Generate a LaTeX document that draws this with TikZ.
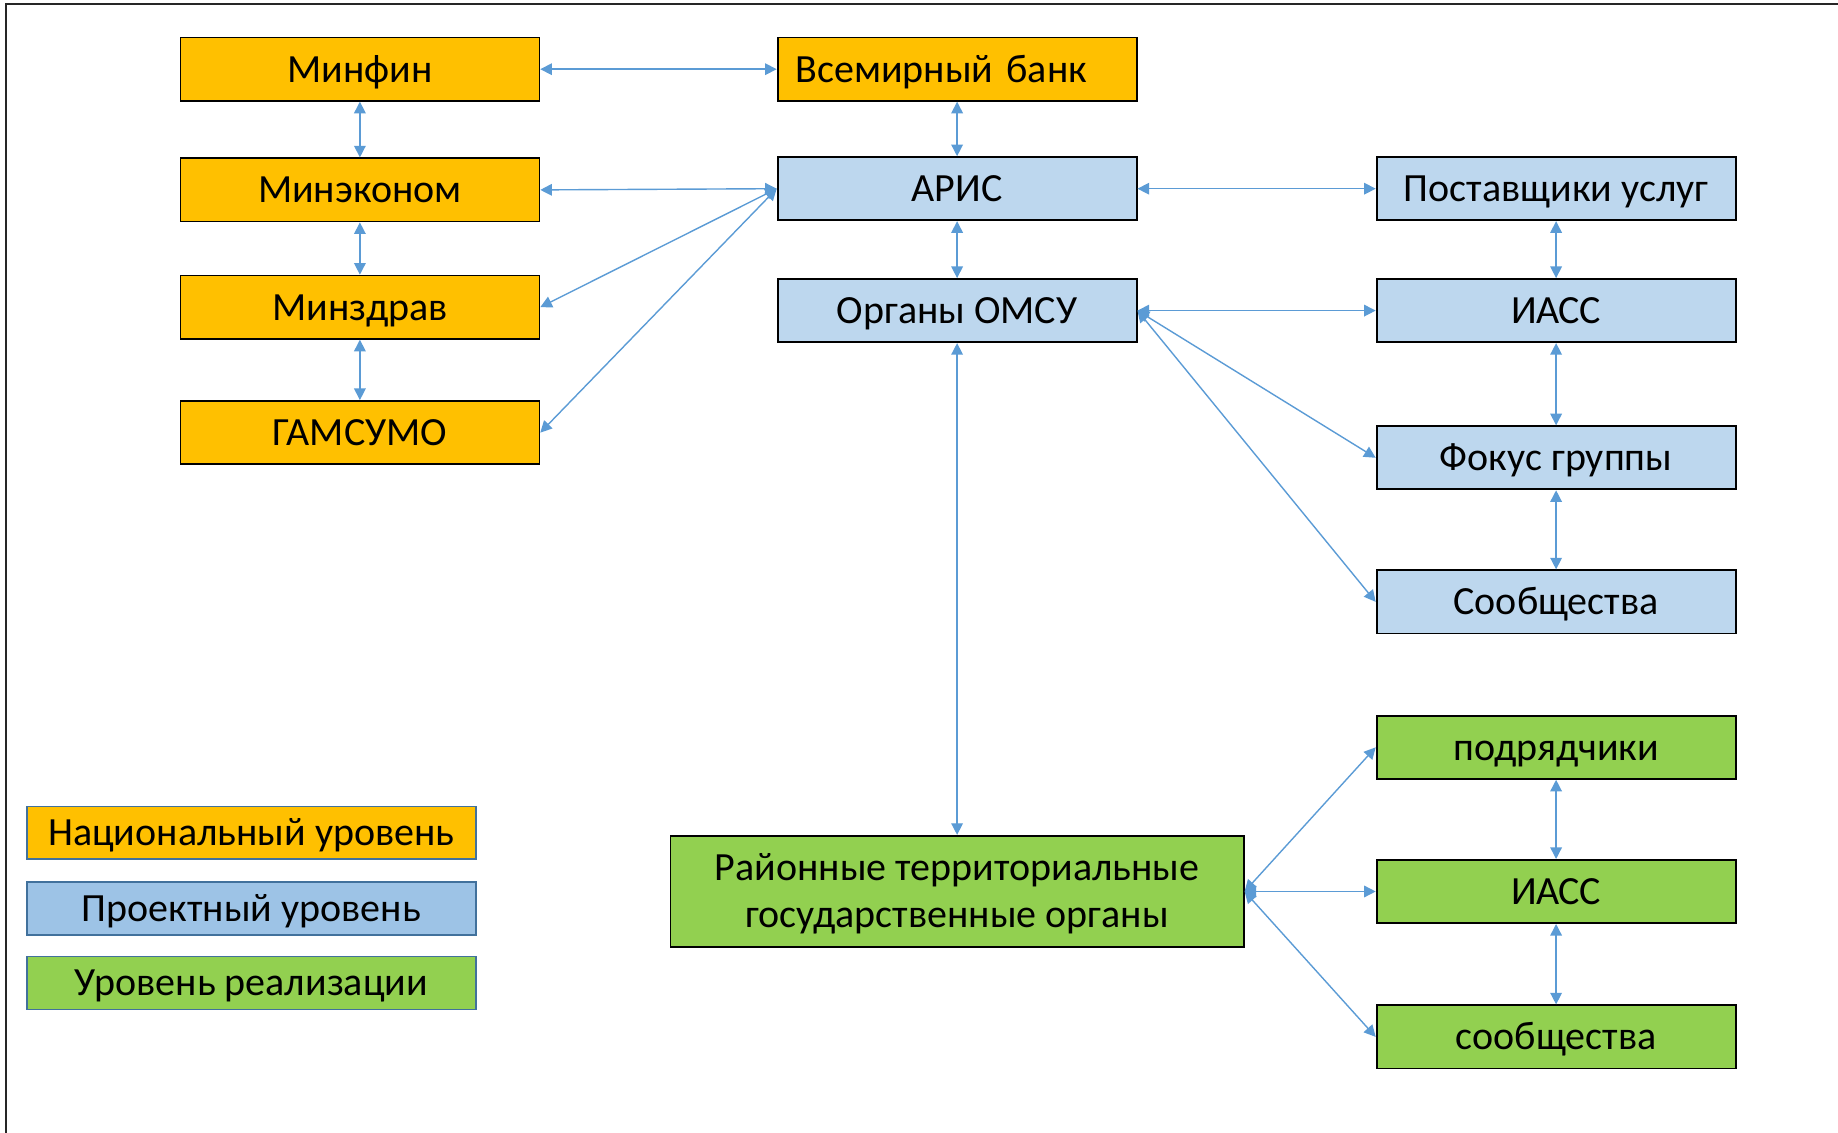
\documentclass[tikz,border=0pt]{standalone}
\usepackage{fontspec}
\setmainfont{Carlito}
\usetikzlibrary{arrows.meta}
\definecolor{cOrange}{HTML}{FFC000}
\definecolor{cBlue}{HTML}{BDD7EE}
\definecolor{cLegBlue}{HTML}{9DC3E6}
\definecolor{cGreen}{HTML}{92D050}
\definecolor{cArrow}{HTML}{5B9BD5}
\definecolor{cLegBorder}{HTML}{41719C}
\tikzset{
  box/.style={draw=black, line width=0.9pt, inner sep=0pt, minimum width=179.5pt, minimum height=31.6pt, font=\fontsize{20}{23.3}\selectfont, text=black, text height=12.9pt, text depth=0pt},
  nat/.style={box, fill=cOrange},
  proj/.style={box, fill=cBlue},
  impl/.style={box, fill=cGreen},
  legend/.style={draw=cLegBorder, line width=0.7pt, inner sep=0pt, minimum width=224.5pt, minimum height=26.4pt, font=\fontsize{20}{23.3}\selectfont, text height=12.9pt, text depth=0pt},
  link/.style={draw=cArrow, line width=0.7pt, {Triangle[length=5.8pt,width=5.8pt]}-{Triangle[length=5.8pt,width=5.8pt]}}
}
\begin{document}
\begin{tikzpicture}[x=0.5pt,y=-0.5pt]
\useasboundingbox (0,0) rectangle (1838,1133);
% frame
\draw[line width=1pt, black!85] (5.5,1133) -- (5.5,4.5) -- (1838,4.5);
% national
\node[nat] (minfin) at (359.9,69.2) {Минфин};
\node[nat] (minecon) at (359.9,189.9) {Минэконом};
\node[nat] (minzdrav) at (359.9,307.2) {Минздрав};
\node[nat] (gamsumo) at (359.9,432.6) {ГАМСУМО};
\node[nat, inner xsep=9pt, text width=161.5pt, align=left] (wb) at (957.1,69.2) {Всемирный банк};
% project
\node[proj] (aris) at (957.1,188.7) {АРИС};
\node[proj] (omsu) at (957.1,310.6) {Органы ОМСУ};
\node[proj] (post) at (1556.1,188.7) {Поставщики услуг};
\node[proj] (iass) at (1556.1,310.6) {ИАСС};
\node[proj] (focus) at (1556.1,457.8) {Фокус группы};
\node[proj] (soob) at (1556.1,601.9) {Сообщества};
% implementation
\node[impl] (podr) at (1556.1,747.3) {подрядчики};
\node[impl] (iass2) at (1556.1,891.5) {ИАСС};
\node[impl] (soob2) at (1556.1,1036.9) {сообщества};
\node[impl, minimum width=286.6pt, minimum height=55.7pt, align=center, text height=35.6pt, text depth=0pt] (rayon) at (957.1,891.5) {Районные территориальные\\государственные органы};
% legend
\node[legend, fill=cOrange] (lnat) at (251.4,832.8) {Национальный уровень};
\node[legend, fill=cLegBlue] (lproj) at (251.4,908.5) {Проектный уровень};
\node[legend, fill=cGreen] (limpl) at (251.4,982.9) {Уровень реализации};
% connectors
\draw[link] (minfin.east) -- (wb.west);
\draw[link] (minfin.south) -- (minecon.north);
\draw[link] (minecon.south) -- (minzdrav.north);
\draw[link] (minzdrav.south) -- (gamsumo.north);
\draw[link] (wb.south) -- (aris.north);
\draw[link] (minecon.east) -- (aris.west);
\draw[link] (minzdrav.east) -- (aris.west);
\draw[link] (gamsumo.east) -- (aris.west);
\draw[link] (aris.east) -- (post.west);
\draw[link] (aris.south) -- (omsu.north);
\draw[link] (omsu.east) -- (iass.west);
\draw[link] (omsu.east) -- (focus.west);
\draw[link] (omsu.east) -- (soob.west);
\draw[link] (post.south) -- (iass.north);
\draw[link] (iass.south) -- (focus.north);
\draw[link] (focus.south) -- (soob.north);
\draw[link] (omsu.south) -- (rayon.north);
\draw[link] (rayon.east) -- (podr.west);
\draw[link] (rayon.east) -- (iass2.west);
\draw[link] (rayon.east) -- (soob2.west);
\draw[link] (podr.south) -- (iass2.north);
\draw[link] (iass2.south) -- (soob2.north);
\end{tikzpicture}
\end{document}
